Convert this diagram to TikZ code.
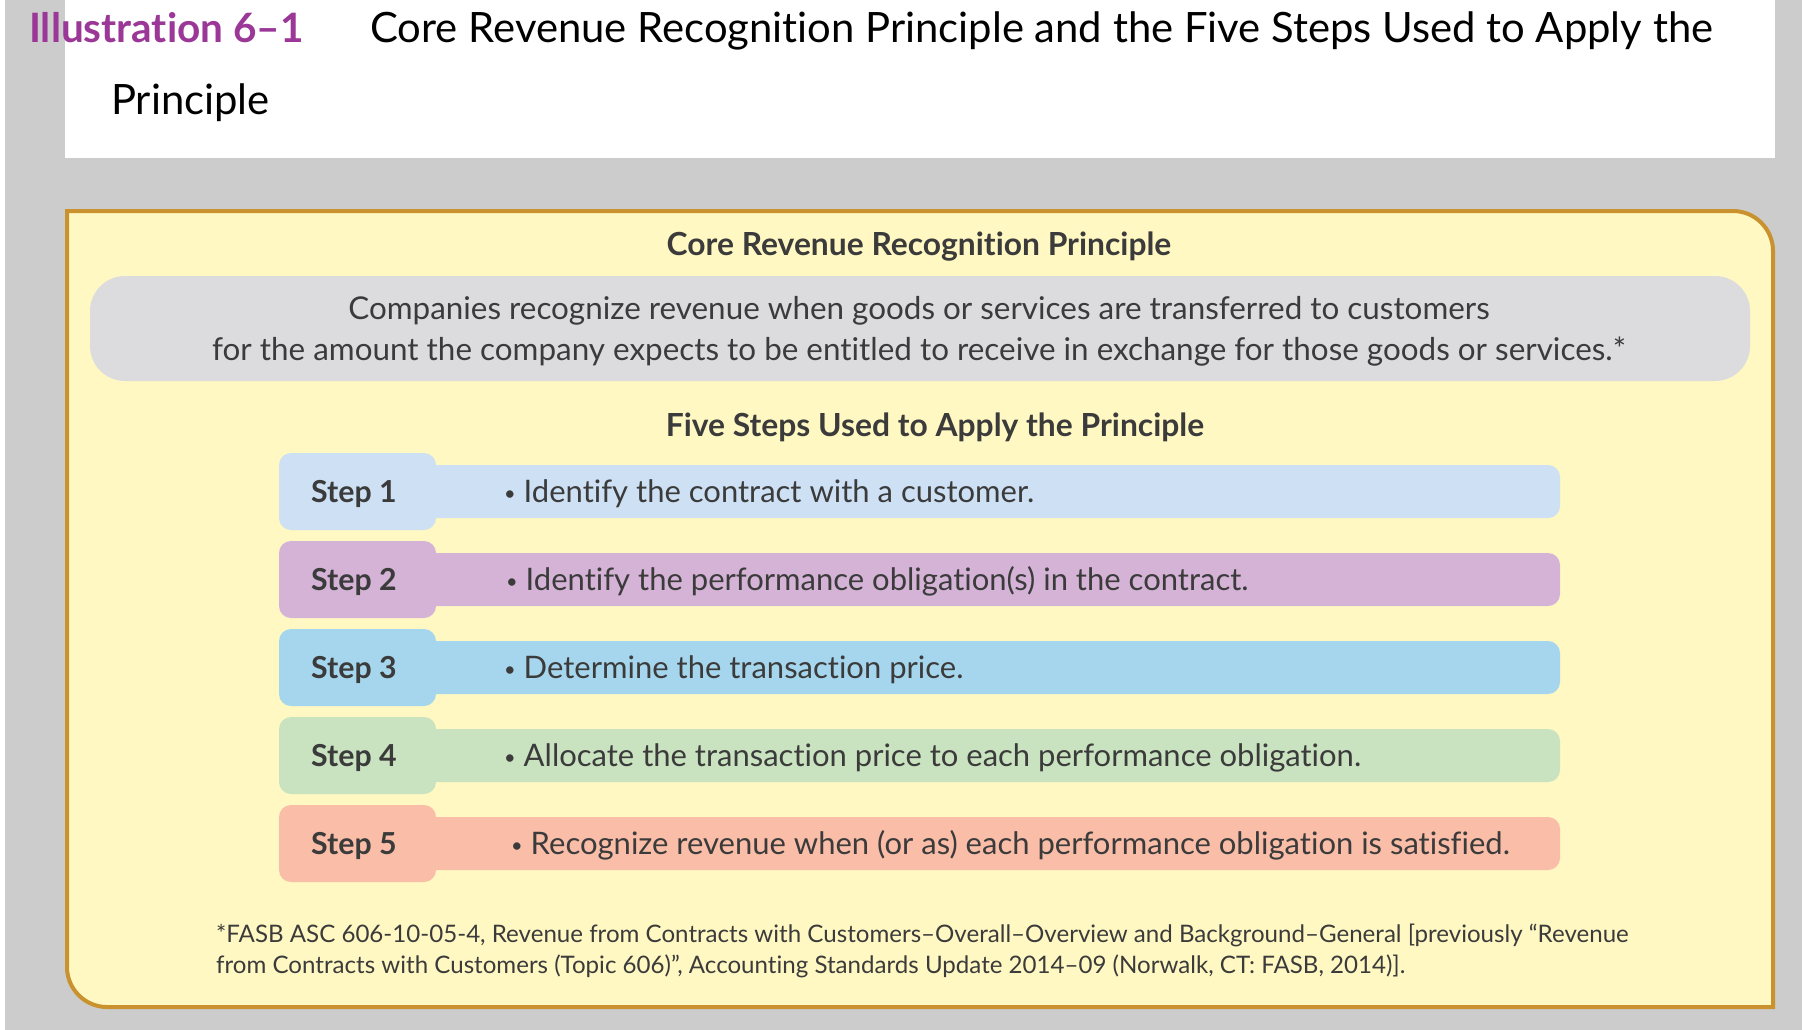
\documentclass[tikz,border=0pt]{standalone}
\usepackage{fontspec}
\setmainfont{Lato}[Ligatures=NoCommon]
\usetikzlibrary{positioning}

\definecolor{pagegray}{HTML}{CCCCCC}
\definecolor{illuspurple}{HTML}{9B3797}
\definecolor{boxyellow}{HTML}{FFF8C2}
\definecolor{boxedge}{HTML}{C9922E}
\definecolor{principlegray}{HTML}{DCDCDE}
\definecolor{inktext}{HTML}{3B3B3B}
\definecolor{stepone}{HTML}{CDE0F4}
\definecolor{steptwo}{HTML}{D4B3D6}
\definecolor{stepthree}{HTML}{A5D6ED}
\definecolor{stepfour}{HTML}{C9E2C0}
\definecolor{stepfive}{HTML}{F9BDA8}

\newcommand{\stepdot}{\raisebox{2.5pt}{\fontsize{20}{20}\selectfont•}}

\begin{document}
\begin{tikzpicture}[
            x = 1pt, y = -1pt, % picture measured in pixels, y down
            inner sep = 0pt,
            node distance = 10pt
        ]

        \tikzstyle{titletext}=[anchor = base west, font = \fontsize{41.8}{46}\selectfont]
        \tikzstyle{illustext}=[anchor = base west, text = illuspurple, font = \fontsize{40.5}{46}\selectfont\bfseries]
        \tikzstyle{headtext}=[anchor = base, text = inktext, font = \fontsize{31.8}{36}\selectfont\bfseries]
        \tikzstyle{bodytext}=[anchor = base, text = inktext, font = \fontsize{31.4}{36}\selectfont]
        \tikzstyle{steplabel}=[anchor = base west, text = inktext, font = \fontsize{30.3}{36}\selectfont\bfseries]
        \tikzstyle{steptext}=[anchor = base west, text = inktext, font = \fontsize{31}{36}\selectfont]
        \tikzstyle{notetext}=[anchor = base west, text = inktext, font = \fontsize{24.1}{28}\selectfont]

        % page and header
        \useasboundingbox (0,0) rectangle (1802,1029);
        \fill[pagegray] (-3,-3) rectangle (1805,1035);
        \fill[white] (-3,-3) rectangle (5,1035);
        \fill[white] (65,-3) rectangle (1775,158);
        \node[illustext] (illus) at (29,42) {Illustration 6–1};
        \node[titletext] (title) at (370,42) {Core Revenue Recognition Principle and the Five Steps Used to Apply the};
        \node[titletext] (title2) at (111,114) {Principle};

        % yellow panel, round at top right and bottom left
        \draw[boxedge, line width = 4pt, fill = boxyellow]
            (67,211) -- (1733,211) .. controls (1755,211) and (1773,229) .. (1773,251)
            -- (1773,1007) -- (107,1007) .. controls (85,1007) and (67,989) .. (67,967) -- cycle;

        \node[headtext] (corehead) at (919,255) {Core Revenue Recognition Principle};
        \fill[principlegray, rounded corners = 35pt] (90,276) rectangle (1750,381);
        \node[bodytext] (coreline1) at (919,319) {Companies recognize revenue when goods or services are transferred to customers};
        \node[bodytext] (coreline2) at (919,360) {for the amount the company expects to be entitled to receive in exchange for those goods or services.*};

        \node[headtext] (stepshead) at (935,436) {Five Steps Used to Apply the Principle};

        % the five steps
        \foreach \i/\col/\dx/\txt in {
            1/stepone/0/{Identify the contract with a customer.},
            2/steptwo/2/{Identify the performance obligation(s) in the contract.},
            3/stepthree/0/{Determine the transaction price.},
            4/stepfour/0/{Allocate the transaction price to each performance obligation.},
            5/stepfive/7/{Recognize revenue when (or as) each performance obligation is satisfied.}} {
            \pgfmathsetmacro{\cy}{491.5 + 88*(\i-1)}
            \fill[\col, rounded corners = 12pt] (279,\cy-26.5) rectangle (1560,\cy+26.5);
            \fill[\col, rounded corners = 12pt] (279,\cy-38.5) rectangle (436,\cy+38.5);
            \node[steplabel] (step\i) at (311,\cy+11) {Step \i};
            \node[steptext] (stepdo\i) at (504+\dx,\cy+11) {\stepdot{} \txt};
        }

        % footnote
        \node[notetext] (note1) at (216,942) {*FASB ASC 606-10-05-4, Revenue from Contracts with Customers–Overall–Overview and Background–General [previously “Revenue};
        \node[notetext] (note2) at (216,973) {from Contracts with Customers (Topic 606)”, Accounting Standards Update 2014–09 (Norwalk, CT: FASB, 2014)].};

    \end{tikzpicture}
\end{document}
